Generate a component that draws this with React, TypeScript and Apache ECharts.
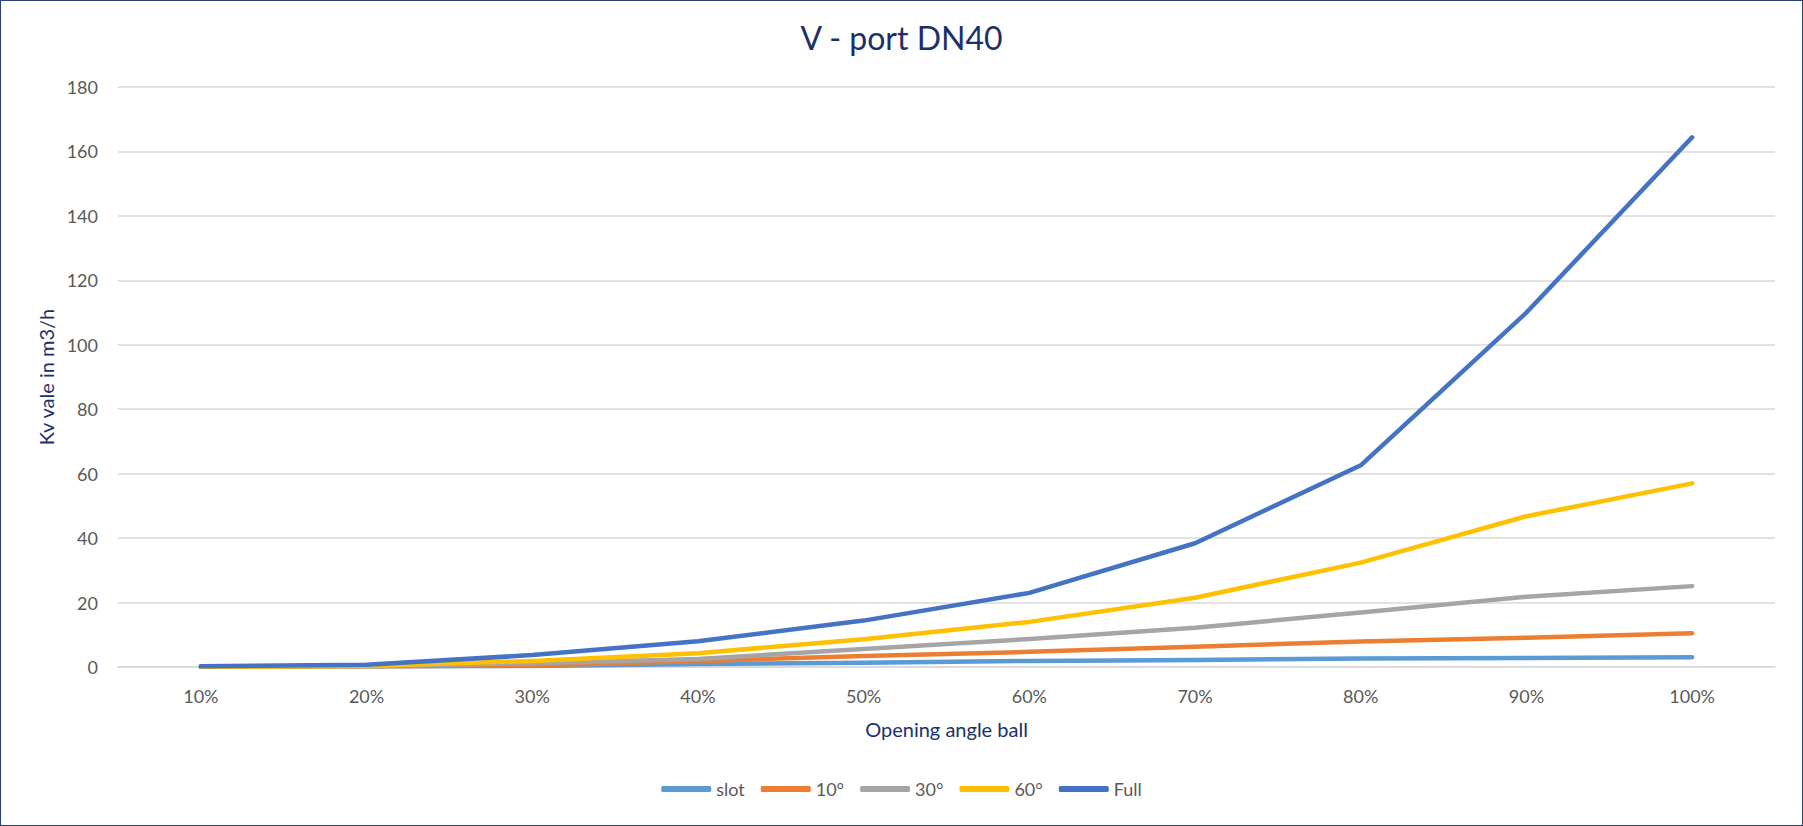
import React, { useEffect, useRef } from "react";
import * as echarts from "echarts";

const categories = ["10%", "20%", "30%", "40%", "50%", "60%", "70%", "80%", "90%", "100%"];
const seriesNames = ["slot", "10°", "30°", "60°", "Full"];
const slotValues = [0.1, 0.2, 0.3, 0.9, 1.3, 1.9, 2.2, 2.6, 2.8, 3.0];
const deg10Values = [0.1, 0.2, 0.5, 1.9, 3.4, 4.7, 6.3, 7.9, 9.1, 10.5];
const deg30Values = [0.1, 0.2, 1.2, 2.5, 5.6, 8.7, 12.2, 16.9, 21.8, 25.1];
const deg60Values = [0.1, 0.3, 1.9, 4.3, 8.6, 14.0, 21.5, 32.4, 46.8, 57.0];
const fullValues = [0.2, 0.7, 3.7, 8.0, 14.4, 23.0, 38.4, 62.6, 110.0, 164.4];
const colors = ["#5B9BD5", "#ED7D31", "#A5A5A5", "#FFC000", "#4472C4"];

const FONT = "Lato, 'Open Sans', sans-serif";

export default function App() {
  const ref = useRef<HTMLDivElement>(null);
  useEffect(() => {
    document.body.style.margin = "0";
    const chart = echarts.init(ref.current!, null, { renderer: "svg" });
    const data = [slotValues, deg10Values, deg30Values, deg60Values, fullValues];
    chart.setOption({
      animation: false,
      color: colors,
      textStyle: { fontFamily: FONT },
      title: {
        text: "V - port DN40",
        left: "center",
        top: 15,
        textStyle: { fontFamily: FONT, fontSize: 32, fontWeight: "normal", color: "#1B2F6B" },
      },
      grid: { left: 117, right: 27, top: 86, bottom: 158 },
      legend: {
        bottom: 22,
        left: "center",
        itemWidth: 50,
        itemHeight: 6,
        itemGap: 16,
        icon: "roundRect",
        textStyle: { fontFamily: FONT, fontSize: 18, color: "#595959" },
        data: seriesNames,
      },
      xAxis: {
        type: "category",
        data: categories,
        boundaryGap: true,
        name: "Opening angle ball",
        nameLocation: "middle",
        nameGap: 52,
        nameTextStyle: { fontFamily: FONT, fontSize: 20, color: "#1B2F6B" },
        axisLine: { show: true, lineStyle: { color: "#D9D9D9", width: 1.5 } },
        axisTick: { show: false },
        axisLabel: { margin: 20, fontFamily: FONT, fontSize: 18, color: "#595959" },
      },
      yAxis: {
        type: "value",
        min: 0,
        max: 180,
        interval: 20,
        name: "Kv vale in m3/h",
        nameLocation: "middle",
        nameGap: 62,
        nameTextStyle: { fontFamily: FONT, fontSize: 20, color: "#1B2F6B" },
        axisLine: { show: false },
        axisTick: { show: false },
        axisLabel: { margin: 20, fontFamily: FONT, fontSize: 18, color: "#595959" },
        splitLine: { lineStyle: { color: "#D9D9D9", width: 1.5 } },
      },
      series: seriesNames.map((name, i) => ({
        name,
        type: "line",
        data: data[i],
        showSymbol: false,
        symbol: "none",
        smooth: false,
        lineStyle: { width: 4.5, color: colors[i], cap: "round", join: "round" },
        itemStyle: { color: colors[i] },
      })),
    });
    return () => chart.dispose();
  }, []);
  return (
    <div
      style={{
        width: 1803,
        height: 826,
        boxSizing: "border-box",
        border: "1.5px solid #2A4272",
        background: "#fff",
      }}
    >
      <div ref={ref} style={{ width: "100%", height: "100%" }} />
    </div>
  );
}
